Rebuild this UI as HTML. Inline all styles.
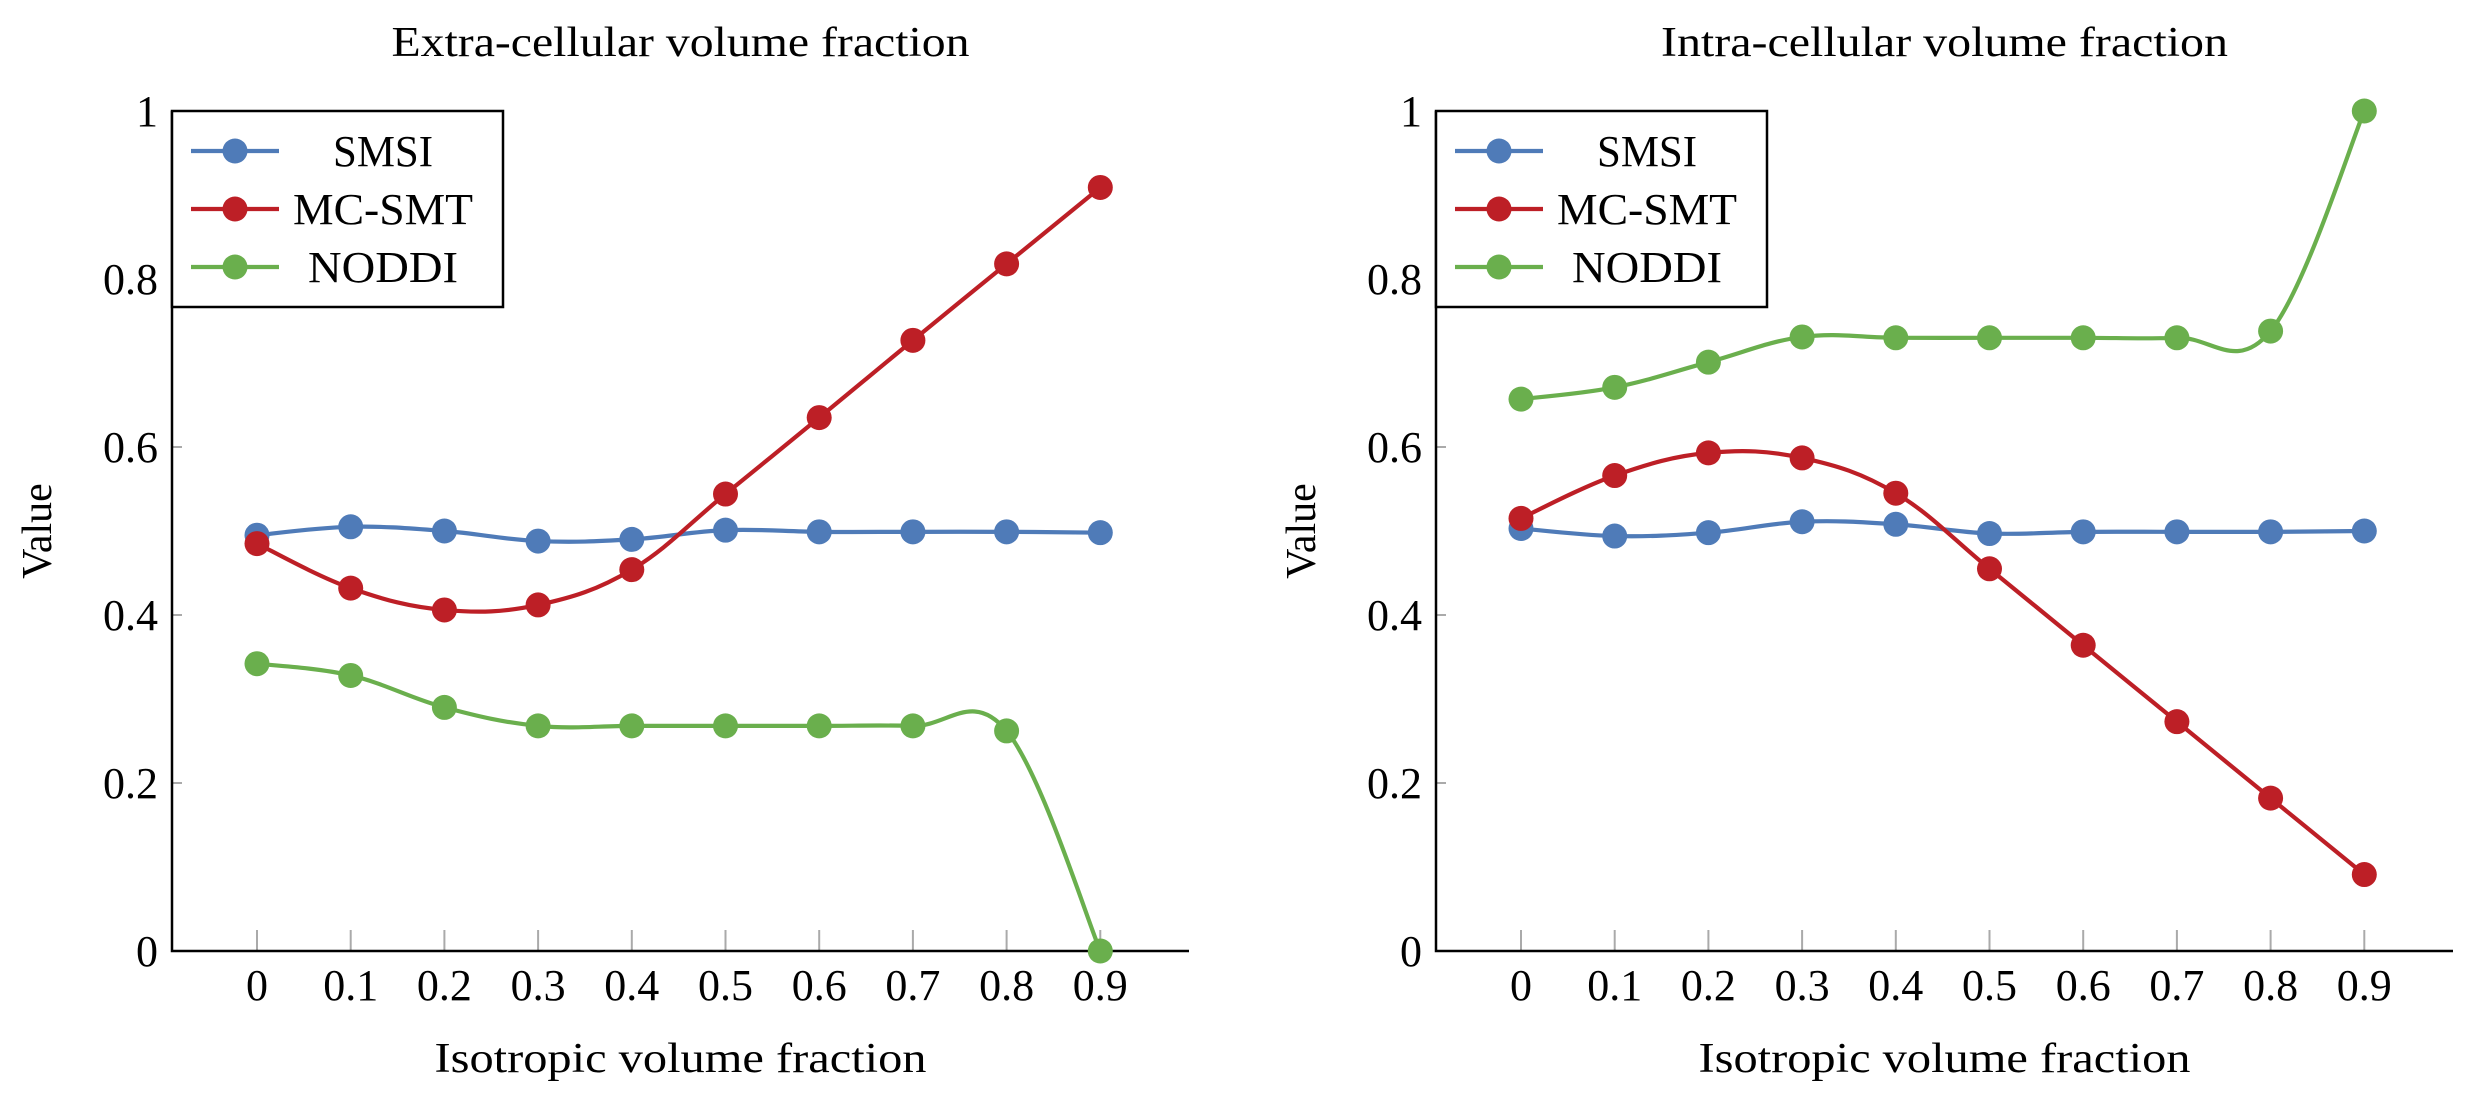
<!DOCTYPE html>
<html><head><meta charset="utf-8"><style>
html,body{margin:0;padding:0;background:#fff;}
svg{display:block;}
text{font-family:"Liberation Serif",serif;fill:#000;}
</style></head><body>
<svg id="chart" width="2476" height="1103" viewBox="0 0 2476 1103" xmlns="http://www.w3.org/2000/svg"></svg>
<script>
const categories = [0,0.1,0.2,0.3,0.4,0.5,0.6,0.7,0.8,0.9];
const xTickLabels = ["0","0.1","0.2","0.3","0.4","0.5","0.6","0.7","0.8","0.9"];
const yTickValues = [0,0.2,0.4,0.6,0.8,1];
const yTickLabels = ["0","0.2","0.4","0.6","0.8","1"];
const seriesNames = ["SMSI","MC-SMT","NODDI"];
const extraSMSI = [0.495,0.505,0.500,0.488,0.490,0.501,0.499,0.499,0.499,0.498];
const extraMCSMT = [0.485,0.432,0.406,0.412,0.454,0.544,0.635,0.727,0.818,0.909];
const extraNODDI = [0.342,0.328,0.290,0.268,0.268,0.268,0.268,0.268,0.262,0.0];
const intraSMSI = [0.503,0.494,0.498,0.511,0.508,0.497,0.499,0.499,0.499,0.500];
const intraMCSMT = [0.515,0.566,0.593,0.587,0.545,0.455,0.364,0.273,0.182,0.091];
const intraNODDI = [0.657,0.671,0.701,0.731,0.730,0.730,0.730,0.730,0.738,1.0];

const NS="http://www.w3.org/2000/svg";
const svg=document.getElementById('chart');
const colors=["#4f7bb8","#bd1f26","#6aaf4d"];
function mk(tag,attrs,parent){const e=document.createElementNS(NS,tag);for(const k in attrs)e.setAttribute(k,attrs[k]);(parent||svg).appendChild(e);return e;}

function drawPanel(ox,title,titleLen,data,key){
  const g=mk('g',{});
  
  
  const axL=ox, axR=ox+1017, yTop=111, yBot=951;
  const x0=ox+85, dx=93.7;
  const X=v=>x0+(v/0.1)*dx;
  const Y=v=>yBot-(v)*(yBot-yTop);
  const t=mk('text',{x:(axL+axR)/2,y:56,'font-size':42,'text-anchor':'middle',textLength:titleLen,lengthAdjust:'spacingAndGlyphs'},g);t.textContent=title;
  
  
  categories.forEach((c,i)=>{
    const tk=mk('line',{x1:X(c),x2:X(c),y1:yBot,y2:yBot-21,stroke:'#aaa','stroke-width':2},g);
    
    
    const l=mk('text',{x:X(c),y:1000,'font-size':44,'text-anchor':'middle'},g);l.textContent=xTickLabels[i];
    
    
  });
  yTickValues.forEach((v,i)=>{
    const tk=mk('line',{x1:axL,x2:axL+10,y1:Y(v),y2:Y(v),stroke:'#aaa','stroke-width':2},g);
    
    
    const l=mk('text',{x:axL-14,y:Y(v)+15,'font-size':44,'text-anchor':'end'},g);l.textContent=yTickLabels[i];
    
    
  });
  const ax=mk('path',{d:`M${axL},${yTop} L${axL},${yBot} L${axR},${yBot}`,fill:'none',stroke:'#000','stroke-width':2.5},g);
  
  
  const xl=mk('text',{x:(axL+axR)/2,y:1072,'font-size':42,'text-anchor':'middle',textLength:492,lengthAdjust:'spacingAndGlyphs'},g);xl.textContent='Isotropic volume fraction';
  
  
  const yl=mk('text',{x:0,y:0,'font-size':42,'text-anchor':'middle',transform:`translate(${ox-121},${(yTop+yBot)/2}) rotate(-90)`},g);yl.textContent='Value';
  
  
  data.forEach((vals,si)=>{
    const pts=categories.map((c,i)=>[X(c),Y(vals[i])]);
    let d=`M${pts[0][0]},${pts[0][1]}`;
    for(let i=0;i<pts.length-1;i++){
      const p0=pts[Math.max(0,i-1)],p1=pts[i],p2=pts[i+1],p3=pts[Math.min(pts.length-1,i+2)];
      const k=0.55/2;
      const a=(i===0?2:1.5), b=(i===pts.length-2?2:1.5);
      const c1=[p1[0]+(p2[0]-p0[0])*k/a, p1[1]+(p2[1]-p0[1])*k/a];
      const c2=[p2[0]-(p3[0]-p1[0])*k/b, p2[1]-(p3[1]-p1[1])*k/b];
      d+=` C${c1[0]},${c1[1]} ${c2[0]},${c2[1]} ${p2[0]},${p2[1]}`;
    }
    const p=mk('path',{d,fill:'none',stroke:colors[si],'stroke-width':4.2},g);
    
    
    pts.forEach(pt=>{
      const c=mk('circle',{cx:pt[0],cy:pt[1],r:12.5,fill:colors[si]},g);
      
      
    });
  });
  const lg=mk('g',{},g);
  
  
  mk('rect',{x:axL,y:yTop,width:331,height:196,fill:'#fff',stroke:'#000','stroke-width':2.5},lg);
  const lens=[100,180,150];
  seriesNames.forEach((n,i)=>{
    const yy=151+i*58;
    const e=mk('g',{},lg);
    
    
    mk('line',{x1:axL+19,x2:axL+107,y1:yy,y2:yy,stroke:colors[i],'stroke-width':4.2},e);
    mk('circle',{cx:axL+63,cy:yy,r:12.5,fill:colors[i]},e);
    const tt=mk('text',{x:axL+211,y:yy+15,'font-size':44,'text-anchor':'middle',textLength:lens[i],lengthAdjust:'spacingAndGlyphs'},e);tt.textContent=n;
  });
}
drawPanel(172,'Extra-cellular volume fraction',578,[extraSMSI,extraMCSMT,extraNODDI],'extra');
drawPanel(1436,'Intra-cellular volume fraction',567,[intraSMSI,intraMCSMT,intraNODDI],'intra');
</script>
</body></html>
